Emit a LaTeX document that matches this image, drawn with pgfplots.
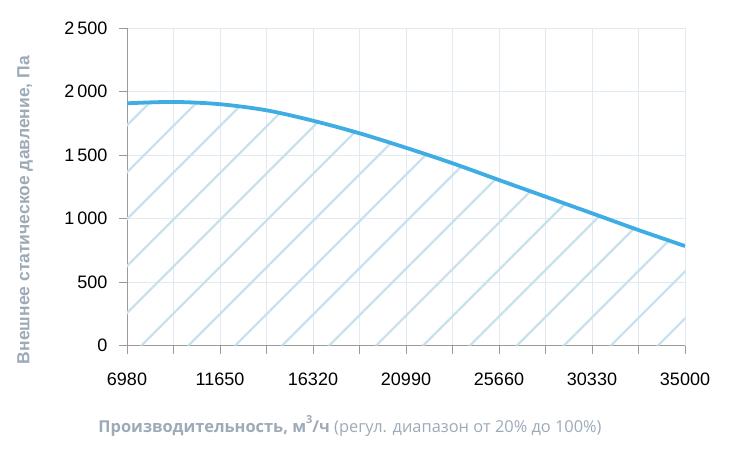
\documentclass[border=0pt]{standalone}
\usepackage{fontspec}
\setmainfont{Liberation Sans}
\newfontfamily\osans{Open Sans}
\usepackage{pgfplots}
\pgfplotsset{compat=1.18}
\usetikzlibrary{patterns.meta}
\definecolor{curve}{HTML}{3FADE3}
\definecolor{hatch}{HTML}{C9E1ED}
\definecolor{gridc}{HTML}{E1EAF3}
\definecolor{axisc}{HTML}{9A9A9A}
\definecolor{labc}{HTML}{9DAAB7}
\pgfplotstableread{
x y
6980 1907
9315 1918
11650 1900
13985 1852
16320 1770
18655 1671
20990 1557
23325 1435
25660 1303
27995 1172
30330 1041
32665 909
35000 783
}\curvedata
\begin{document}
\begin{tikzpicture}[x=1pt,y=1pt]
\useasboundingbox (0,0) rectangle (730,456);
\begin{axis}[
  at={(127pt,110.5pt)}, anchor=south west,
  scale only axis, width=558pt, height=317.5pt,
  xmin=6980, xmax=35000, ymin=0, ymax=2500,
  axis x line=bottom, axis y line=left,
  axis line style={axisc, line width=1pt, -},
  xtick={6980,11650,16320,20990,25660,30330,35000},
  minor xtick={9315,13985,18655,23325,27995,32665},
  ytick={0,500,...,2500},
  scaled ticks=false,
  grid=both,
  major grid style={gridc, line width=0.9pt},
  minor grid style={gridc, line width=0.9pt},
  tick align=outside, major tick length=8pt, minor tick length=8pt,
  tick style={axisc, line width=1pt},
  /pgf/number format/assume math mode=true,
  x tick label style={/pgf/number format/fixed, /pgf/number format/1000 sep={}, font=\fontsize{18}{20}\selectfont, text=black},
  y tick label style={/pgf/number format/fixed, /pgf/number format/1000 sep={\,}, font=\fontsize{18}{20}\selectfont, text=black},
  xticklabel shift=16pt, yticklabel shift=8pt,
  clip=true,
]
\addplot[draw=none, pattern={Lines[angle=45,distance=33.2pt,line width=2.3pt,yshift=16pt]}, pattern color=hatch, smooth] table {\curvedata} \closedcycle;
\addplot[curve, line width=3.8pt, smooth] table {\curvedata};
\end{axis}
\node[rotate=90, text=labc, font=\fontsize{17.5}{19}\selectfont\bfseries] at (25,246) {Внешнее статическое давление, Па};
\node[text=labc, font=\osans\fontsize{16.4}{18}\selectfont] at (350,30) {\textbf{Производительность, м\raisebox{0.55em}{\fontsize{11}{12}\selectfont 3}/ч} (регул. диапазон от 20\% до 100\%)};
\end{tikzpicture}
\end{document}
